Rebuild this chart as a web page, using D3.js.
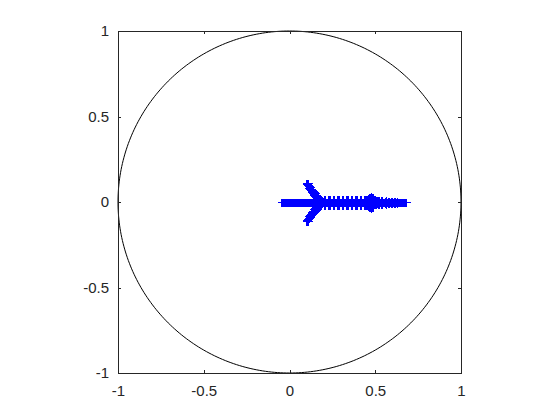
<!DOCTYPE html>
<html>
<head>
<meta charset="utf-8">
<script src="https://cdn.jsdelivr.net/npm/d3@7"></script>
<style>
  html, body { margin: 0; padding: 0; background: #fff; }
  svg { display: block; }
</style>
</head>
<body>
<div id="chart"></div>
<script>
// eigenvalues on the real axis
const realEig = [
  -0.050, -0.046, -0.041, -0.036, -0.031, -0.027, -0.022, -0.017, -0.012, -0.008,
  -0.003, 0.002, 0.006, 0.011, 0.015, 0.020, 0.025, 0.029, 0.034, 0.038,
  0.043, 0.048, 0.052, 0.057, 0.061, 0.066, 0.071, 0.075, 0.080, 0.084,
  0.089, 0.094, 0.098, 0.103, 0.107, 0.112, 0.117, 0.121, 0.126, 0.130,
  0.135, 0.140, 0.144, 0.149, 0.153, 0.158, 0.163, 0.167, 0.172, 0.176,
  0.181, 0.186, 0.190, 0.195, 0.199, 0.204, 0.209, 0.213, 0.218, 0.222,
  0.227, 0.232, 0.236, 0.241, 0.245, 0.250, 0.255, 0.259, 0.264, 0.268,
  0.273, 0.278, 0.282, 0.287, 0.291, 0.296, 0.301, 0.305, 0.310, 0.314,
  0.319, 0.324, 0.328, 0.333, 0.337, 0.342, 0.347, 0.351, 0.356, 0.360,
  0.365, 0.370, 0.374, 0.379, 0.383, 0.388, 0.393, 0.397, 0.402, 0.406,
  0.411, 0.416, 0.420, 0.425, 0.429, 0.434, 0.439, 0.443, 0.448, 0.452,
  0.457, 0.462, 0.466, 0.471, 0.475, 0.480, 0.485, 0.489, 0.494, 0.498,
  0.503, 0.508, 0.512, 0.517, 0.521, 0.526, 0.531, 0.535, 0.540, 0.544,
  0.549, 0.554, 0.558, 0.563, 0.567, 0.572, 0.577, 0.581, 0.586, 0.590,
  0.595, 0.600, 0.604, 0.609, 0.613, 0.618, 0.623, 0.627, 0.632, 0.636,
  0.641, 0.646, 0.650, 0.655, 0.659, 0.664, 0.669, 0.673, 0.678
];

// complex pairs [re, im], each is drawn with its conjugate
const wingPairs = [
  [0.096, 0.112], [0.101, 0.112], [0.106, 0.110], [0.099, 0.106], [0.104, 0.104],
  [0.102, 0.098], [0.108, 0.097], [0.110, 0.100], [0.106, 0.091], [0.112, 0.089],
  [0.116, 0.092], [0.110, 0.084], [0.116, 0.082], [0.121, 0.085], [0.114, 0.077],
  [0.121, 0.075], [0.127, 0.078], [0.118, 0.070], [0.126, 0.068], [0.133, 0.071],
  [0.123, 0.063], [0.131, 0.062], [0.139, 0.064], [0.128, 0.056], [0.136, 0.055],
  [0.145, 0.057], [0.133, 0.050], [0.141, 0.048], [0.150, 0.050], [0.138, 0.043],
  [0.146, 0.041], [0.156, 0.043], [0.143, 0.036], [0.151, 0.035], [0.161, 0.036],
  [0.148, 0.030], [0.156, 0.028], [0.166, 0.029], [0.153, 0.023], [0.160, 0.021],
  [0.170, 0.022], [0.158, 0.016], [0.165, 0.014], [0.172, 0.015], [0.163, 0.010]
];

const bandPairs = [
  [0.172, 0.020], [0.178, 0.021], [0.184, 0.019], [0.201, 0.017], [0.207, 0.019],
  [0.224, 0.018], [0.230, 0.020], [0.236, 0.017], [0.253, 0.015], [0.259, 0.019],
  [0.276, 0.020], [0.282, 0.018], [0.288, 0.016], [0.305, 0.019], [0.311, 0.020],
  [0.328, 0.017], [0.334, 0.020], [0.340, 0.018], [0.357, 0.019], [0.363, 0.016],
  [0.380, 0.020], [0.386, 0.018], [0.392, 0.019], [0.409, 0.017], [0.415, 0.020],
  [0.432, 0.019], [0.438, 0.018], [0.444, 0.020], [0.450, 0.016],
  [0.460, 0.022], [0.464, 0.028], [0.469, 0.032], [0.474, 0.034], [0.479, 0.032],
  [0.484, 0.028], [0.488, 0.021], [0.467, 0.015], [0.476, 0.020], [0.483, 0.014],
  [0.500, 0.010], [0.506, 0.011], [0.518, 0.009], [0.524, 0.010], [0.536, 0.009],
  [0.542, 0.010], [0.554, 0.008], [0.560, 0.009], [0.572, 0.008], [0.578, 0.007],
  [0.590, 0.007], [0.596, 0.008], [0.608, 0.006], [0.614, 0.006], [0.626, 0.005]
];

const xTicks = [-1, -0.5, 0, 0.5, 1];
const yTicks = [-1, -0.5, 0, 0.5, 1];

const width = 560, height = 420;
const plot = { left: 118, right: 461, top: 31, bottom: 373 };
const axisColor = '#262626';
const markerColor = '#0000ff';
const font = 'Arial, "Liberation Sans", Helvetica, sans-serif';

const svg = d3.select('#chart').append('svg')
  .attr('width', width)
  .attr('height', height)
  .style('background', '#fff');

const x = d3.scaleLinear().domain([-1, 1]).range([plot.left, plot.right]);
const y = d3.scaleLinear().domain([-1, 1]).range([plot.bottom, plot.top]);

// unit circle
const circ = d3.range(0, 361).map(a => [Math.cos(a * Math.PI / 180), Math.sin(a * Math.PI / 180)]);
svg.append('path')
  .attr('d', d3.line().x(d => x(d[0])).y(d => y(d[1]))(circ))
  .attr('fill', 'none')
  .attr('stroke', '#000')
  .attr('stroke-width', 1);

// all eigenvalue points
const points = [];
realEig.forEach(r => points.push([r, 0]));
wingPairs.concat(bandPairs).forEach(p => {
  points.push([p[0], p[1]]);
  points.push([p[0], -p[1]]);
});

const half = 4;
const px = v => Math.round(v) + 0.5;
svg.append('g')
  .selectAll('path')
  .data(points)
  .join('path')
  .attr('d', d => {
    const cx = px(x(d[0])), cy = px(y(d[1]));
    return `M${cx - half},${cy}H${cx + half}M${cx},${cy - half}V${cy + half}`;
  })
  .attr('fill', 'none')
  .attr('stroke', markerColor)
  .attr('stroke-width', 1)
  .attr('shape-rendering', 'crispEdges');

// axes, MATLAB style: ticks inside, box on
const fmt = d => String(d);
const tick = 3.4;

const styleAxis = g => {
  g.select('.domain').remove();
  g.selectAll('line').attr('stroke', axisColor).attr('shape-rendering', 'crispEdges');
  g.selectAll('text').attr('fill', axisColor).attr('font-size', '15px').attr('font-family', font);
};

svg.append('g')
  .attr('transform', `translate(0,${plot.bottom})`)
  .call(d3.axisBottom(x).tickValues(xTicks).tickFormat(fmt).tickSizeInner(-tick).tickSizeOuter(0).tickPadding(12.5))
  .call(styleAxis);

svg.append('g')
  .attr('transform', `translate(0,${plot.top})`)
  .call(d3.axisTop(x).tickValues(xTicks).tickFormat('').tickSizeInner(-tick).tickSizeOuter(0))
  .call(styleAxis);

svg.append('g')
  .attr('transform', `translate(${plot.left},0)`)
  .call(d3.axisLeft(y).tickValues(yTicks).tickFormat(fmt).tickSizeInner(-tick).tickSizeOuter(0).tickPadding(9))
  .call(styleAxis);

svg.append('g')
  .attr('transform', `translate(${plot.right},0)`)
  .call(d3.axisRight(y).tickValues(yTicks).tickFormat('').tickSizeInner(-tick).tickSizeOuter(0))
  .call(styleAxis);

svg.append('rect')
  .attr('x', plot.left)
  .attr('y', plot.top)
  .attr('width', plot.right - plot.left)
  .attr('height', plot.bottom - plot.top)
  .attr('fill', 'none')
  .attr('stroke', axisColor)
  .attr('stroke-width', 1)
  .attr('shape-rendering', 'crispEdges');
</script>
</body>
</html>
